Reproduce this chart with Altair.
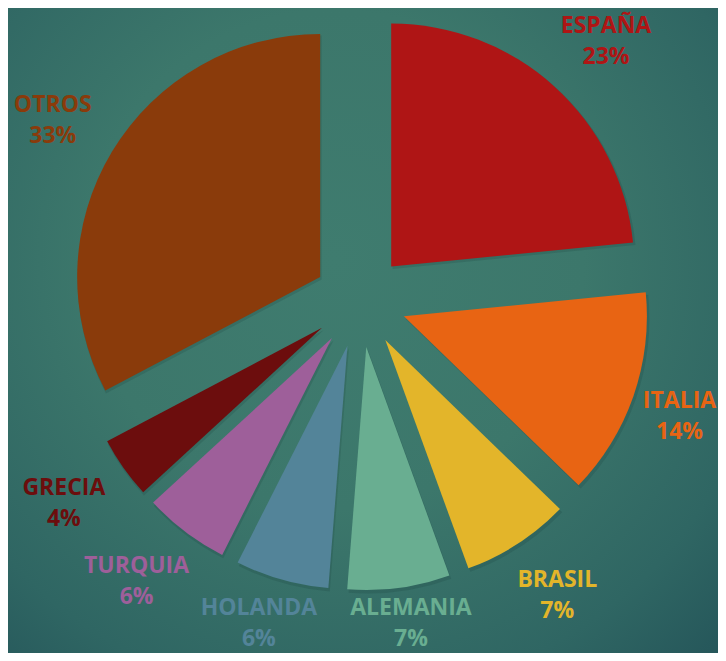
import altair as alt
import pandas as pd

# ---- data ----
paises = ["ESPAÑA", "ITALIA", "BRASIL", "ALEMANIA", "HOLANDA", "TURQUIA", "GRECIA", "OTROS"]
valores = [23.4, 13.8, 7.2, 6.8, 6.2, 5.7, 4.1, 32.7]
colores = ["#AF1515", "#E86413", "#E3B52A", "#69AE91", "#538499", "#9E5F9A", "#6C0D0D", "#8A3B0B"]

W, H = 710, 645
CX, CY = 352, 293      # pie centre (pixels)
R = 243                # pie radius
EXPLODE = 46.5         # explosion distance of every slice
RLAB = 320             # label anchor radius (labels sit outside this circle)
LBOX_H = 62            # two-line label box height

df = pd.DataFrame({"pais": paises, "valor": valores, "orden": list(range(len(paises)))})

base = alt.Chart(df).transform_window(
    cum="sum(valor)", sort=[alt.SortField("orden", order="ascending")], frame=[None, 0]
).transform_joinaggregate(
    total="sum(valor)"
).transform_calculate(
    t1="2*PI*datum.cum/datum.total",
    t0="2*PI*(datum.cum-datum.valor)/datum.total",
).transform_calculate(
    mid="(datum.t0+datum.t1)/2",
    pct="datum.valor/datum.total",
    lw="15.5*length(datum.pais) - 8*(length(datum.pais) - length(replace(datum.pais, regexp('I','g'), '')))",
).transform_calculate(
    px=f"{CX}+{EXPLODE}*sin(datum.mid)",
    py=f"{CY}-{EXPLODE}*cos(datum.mid)",
    lx0=f"{CX}+{RLAB}*sin(datum.mid)+sin(datum.mid)*datum.lw/2",
    ly0=f"{CY}-{RLAB}*cos(datum.mid)-cos(datum.mid)*{LBOX_H}/2",
    pcttxt="format(datum.pct, '.0%')",
).transform_calculate(
    lx=f"clamp(datum.lx0, datum.lw/2, {W}-datum.lw/2)",
    ly=f"clamp(datum.ly0, 30, {H}-30)",
)

color = alt.Color("pais:N", scale=alt.Scale(domain=paises, range=colores), legend=None)

bg = alt.Chart(pd.DataFrame({"a": [0]})).mark_rect(
    color=alt.Gradient(
        gradient="radial",
        x1=0.46, y1=0.4, r1=0.0,
        x2=0.46, y2=0.4, r2=0.78,
        stops=[
            alt.GradientStop(offset=0, color="#3F7C6F"),
            alt.GradientStop(offset=0.45, color="#3C776B"),
            alt.GradientStop(offset=0.8, color="#2F6663"),
            alt.GradientStop(offset=1, color="#25565A"),
        ],
    )
).encode(x=alt.value(0), x2=alt.value(W), y=alt.value(0), y2=alt.value(H))

shadow = base.mark_arc(radius=R + 1, color="#0E2A2A", opacity=0.14).encode(
    x=alt.X("sx:Q", scale=None, axis=None),
    y=alt.Y("sy:Q", scale=None, axis=None),
    theta=alt.Theta("t0:Q", scale=None),
    theta2="t1:Q",
).transform_calculate(sx="datum.px+1.5", sy="datum.py+2.5")

arcs = base.mark_arc(radius=R).encode(
    x=alt.X("px:Q", scale=None, axis=None),
    y=alt.Y("py:Q", scale=None, axis=None),
    theta=alt.Theta("t0:Q", scale=None),
    theta2="t1:Q",
    color=color,
)

font = "Open Sans"
names = base.mark_text(font=font, fontSize=23, fontWeight="bold", dy=-15, baseline="middle", align="center").encode(
    x=alt.X("lx:Q", scale=None, axis=None),
    y=alt.Y("ly:Q", scale=None, axis=None),
    text="pais:N",
    color=color,
)
pcts = base.mark_text(font=font, fontSize=23, fontWeight="bold", dy=16, baseline="middle", align="center").encode(
    x=alt.X("lx:Q", scale=None, axis=None),
    y=alt.Y("ly:Q", scale=None, axis=None),
    text="pcttxt:N",
    color=color,
)

chart = alt.layer(bg, shadow, arcs, names, pcts).properties(
    width=W, height=H, padding=0, autosize=alt.AutoSizeParams(type="none"),
    background="#2E6463",
).configure_view(stroke=None)

chart.save("out.html", embed_options={"renderer": "svg", "actions": False})
